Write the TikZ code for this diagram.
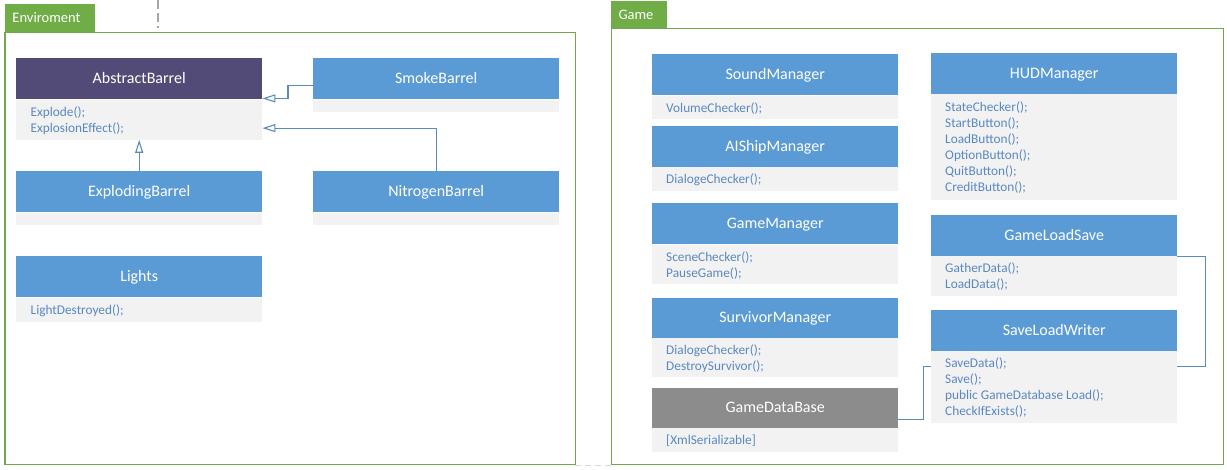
\documentclass[tikz,border=0pt]{standalone}
\usepackage{fontspec}
\setmainfont{Carlito}
\usetikzlibrary{arrows.meta,calc}
\definecolor{hblue}{HTML}{5B9BD5}
\definecolor{hpurple}{HTML}{534B77}
\definecolor{hgray}{HTML}{8C8C8C}
\definecolor{bodyfill}{HTML}{F2F2F2}
\definecolor{bodytxt}{HTML}{5A88C4}
\definecolor{tabgreen}{HTML}{70AD47}
\definecolor{framegreen}{HTML}{70A84A}
\definecolor{connc}{HTML}{5A8BBF}
\newcommand\umlcls[8]{%
  \node[hdr, fill=#7, minimum width=#4pt, minimum height=#5pt] (#1H) at (#2,#3) {#8};
  \node[bdy, minimum width=#4pt, minimum height=#6pt] (#1B) at (#1H.south west) {};
}
\begin{document}
\begin{tikzpicture}[x=1pt,y=-1pt,
  hdr/.style={rectangle, inner sep=0pt, anchor=north west, text=white,
    font=\fontsize{16}{19}\selectfont, text height=10.4pt, text depth=0pt},
  bdy/.style={rectangle, inner sep=0pt, anchor=north west, fill=bodyfill},
  mtxt/.style={inner sep=0pt, anchor=north west, align=left, text=bodytxt,
    font=\fontsize{13.3}{16}\selectfont},
  tabnode/.style={rectangle, fill=tabgreen, anchor=north west, inner xsep=7.3pt, inner ysep=0pt,
    align=left, text=white, font=\fontsize{14.5}{17}\selectfont, text height=9.3pt, text depth=0pt},
  frmnode/.style={rectangle, draw=framegreen, line width=1.2pt, anchor=north west, inner sep=0pt},
  conn/.style={draw=connc, line width=1.1pt},
  inh/.style={conn, -{Triangle[length=13pt,width=8pt,fill=white]}},
  dashline/.style={draw=black!35, line width=1.3pt, dash pattern=on 9pt off 4pt},
  faint/.style={draw=black!15, line width=1.2pt, dash pattern=on 6pt off 4pt},
]
\useasboundingbox (0,0) rectangle (1227,469);
\path[fill=white] (0,0) rectangle (1227,469);

% dashed marker line at top
\coordinate (dA) at (158,0);
\coordinate (dB) at (158,28);
\draw[dashline] (dA) -- (dB);
\coordinate (fA) at (575,465.5);
\coordinate (fB) at (612,465.5);
\draw[faint] (fA) -- (fB);

% frames and tabs
\node[frmnode, minimum width=570.2pt, minimum height=432pt] (envFrame) at (4.3,32) {};
\node[frmnode, minimum width=611.5pt, minimum height=435.5pt] (gameFrame) at (611,28) {};
\node[tabnode, minimum width=90pt, minimum height=28pt, text width=75.4pt] (envTab) at (5,4) {Enviroment};
\node[tabnode, minimum width=56pt, minimum height=27pt, text width=41.4pt] (gameTab) at (611,1) {Game};

% Enviroment classes
\umlcls{ab}{16}{58}{246}{41}{40}{hpurple}{AbstractBarrel}
\umlcls{sm}{313}{58}{246}{41}{12}{hblue}{SmokeBarrel}
\umlcls{ex}{16}{171}{246}{41}{12}{hblue}{ExplodingBarrel}
\umlcls{nt}{313}{171}{246}{41}{12}{hblue}{NitrogenBarrel}
\umlcls{li}{16}{256}{246}{41}{24}{hblue}{Lights}

\node[mtxt] (abT) at ([xshift=14.5pt,yshift=-5.3pt]abB.north west) {\strut Explode();\\\strut ExplosionEffect();};
\node[mtxt] (liT) at ([xshift=14.5pt,yshift=-5.3pt]liB.north west) {\strut LightDestroyed();};

% Game classes
\umlcls{so}{652}{54}{246}{41}{23}{hblue}{SoundManager}
\umlcls{ai}{652}{126}{246}{40.7}{24}{hblue}{AIShipManager}
\umlcls{gm}{652}{202.7}{246}{41.3}{39}{hblue}{GameManager}
\umlcls{sv}{652}{297.3}{246}{40.4}{39}{hblue}{SurvivorManager}
\umlcls{gd}{652}{387.3}{246}{40.4}{24}{hgray}{GameDataBase}
\umlcls{hud}{931}{52.7}{246}{41}{105.3}{hblue}{HUDManager}
\umlcls{gl}{931}{215}{246}{40.7}{40}{hblue}{GameLoadSave}
\umlcls{sl}{931}{310}{246}{40.7}{72}{hblue}{SaveLoadWriter}

\node[mtxt] (soT) at ([xshift=14pt,yshift=-5.3pt]soB.north west) {\strut VolumeChecker();};
\node[mtxt] (aiT) at ([xshift=14pt,yshift=-5.3pt]aiB.north west) {\strut DialogeChecker();};
\node[mtxt] (gmT) at ([xshift=14pt,yshift=-5.3pt]gmB.north west) {\strut SceneChecker();\\\strut PauseGame();};
\node[mtxt] (svT) at ([xshift=14pt,yshift=-5.3pt]svB.north west) {\strut DialogeChecker();\\\strut DestroySurvivor();};
\node[mtxt] (gdT) at ([xshift=14pt,yshift=-5.3pt]gdB.north west) {\strut [XmlSerializable]};
\node[mtxt] (hudT) at ([xshift=14pt,yshift=-5.8pt]hudB.north west) {\strut StateChecker();\\\strut StartButton();\\\strut LoadButton();\\\strut OptionButton();\\\strut QuitButton();\\\strut CreditButton();};
\node[mtxt] (glT) at ([xshift=14pt,yshift=-5.3pt]glB.north west) {\strut GatherData();\\\strut LoadData();};
\node[mtxt] (slT) at ([xshift=14pt,yshift=-5.3pt]slB.north west) {\strut SaveData();\\\strut Save();\\\strut public GameDatabase Load();\\\strut CheckIfExists();};

% connectors
\draw[inh] ([yshift=-6.5pt]smH.west) -- ++(-25,0) |- ([yshift=1pt]abH.south east);
\draw[inh] (ntH.north) |- ([yshift=-8.5pt]abB.east);
\draw[inh] (exH.north) -- (abB.south);
\draw[conn] (glB.north east) -- ++(28,0) |- ([yshift=21pt]slB.east);
\draw[conn] ([yshift=-11.5pt]gdH.east) -- ++(25,0) |- ([yshift=21pt]slB.west);
\end{tikzpicture}
\end{document}
